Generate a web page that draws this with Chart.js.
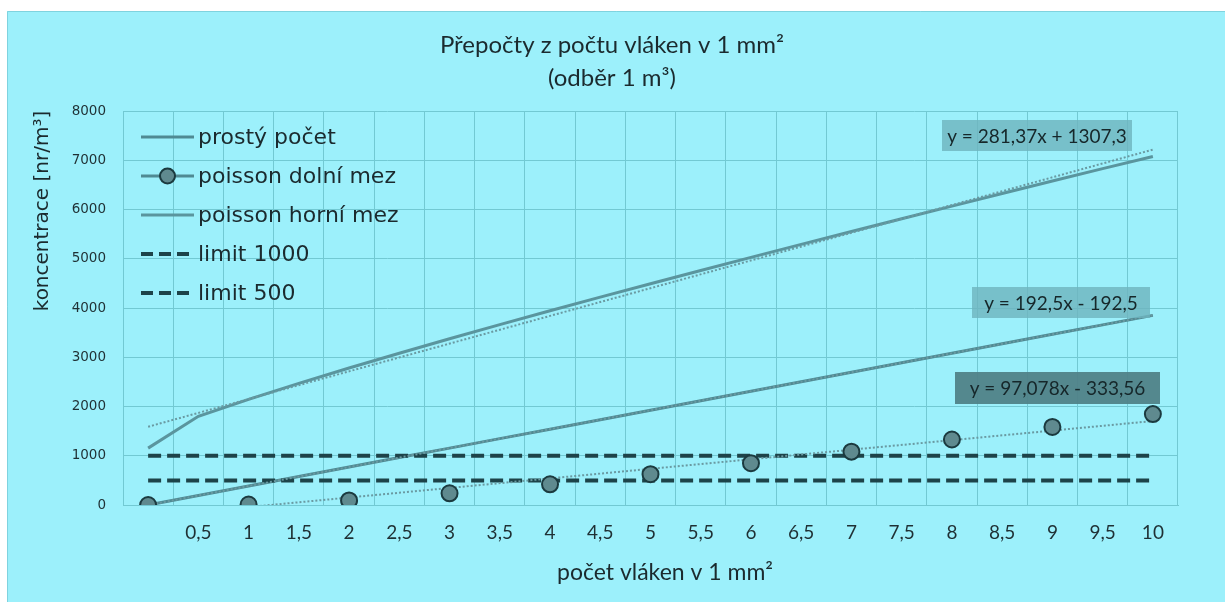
<!DOCTYPE html>
<html><head><meta charset="utf-8">
<script src="https://cdn.jsdelivr.net/npm/chart.js@4.4.1/dist/chart.umd.min.js"></script>
<style>html,body{margin:0;padding:0;background:#fff;}canvas{display:block;}</style>
</head><body>
<canvas id="c" width="1225" height="602"></canvas>
<script>
// ---- data ----
const categories = ['', '0,5', '1', '1,5', '2', '2,5', '3', '3,5', '4', '4,5', '5', '5,5', '6', '6,5', '7', '7,5', '8', '8,5', '9', '9,5', '10'];
const prostyPocet = [0, 192.5, 385, 577.5, 770, 962.5, 1155, 1347.5, 1540, 1732.5, 1925, 2117.5, 2310, 2502.5, 2695, 2887.5, 3080, 3272.5, 3465, 3657.5, 3850];
const poissonDolni = [0, null, 10, null, 93, null, 238, null, 420, null, 625, null, 848, null, 1083, null, 1330, null, 1584, null, 1846];
const poissonHorni = [1155, 1800, 2145, 2470, 2782, 3082, 3375, 3662, 3943, 4220, 4492, 4762, 5028, 5291, 5553, 5812, 6069, 6324, 6578, 6830, 7075];
const limit1000 = [1000, 1000, 1000, 1000, 1000, 1000, 1000, 1000, 1000, 1000, 1000, 1000, 1000, 1000, 1000, 1000, 1000, 1000, 1000, 1000, 1000];
const limit500 = [500, 500, 500, 500, 500, 500, 500, 500, 500, 500, 500, 500, 500, 500, 500, 500, 500, 500, 500, 500, 500];
// trendline end values (first and last category)
const trendHorni = [1589, 7216];
const trendProsty = [0, 3850];
const trendDolni = [-236, 1705];
const seriesNames = ['prostý počet', 'poisson dolní mez', 'poisson horní mez', 'limit 1000', 'limit 500'];
const trendTexts = ['y = 281,37x + 1307,3', 'y = 192,5x - 192,5', 'y = 97,078x - 333,56'];
const titleLines = ['Přepočty z počtu vláken v 1 mm²', '(odběr 1 m³)'];
const xTitle = 'počet vláken v 1 mm²';
const yTitle = 'koncentrace [nr/m³]';

// ---- styles ----
const BG = '#9cf0fb';
const GRID = '#72c9d3';
const LINE = '#4f8a93';
const LINE2 = '#5a959e';
const TREND = '#6a9aa2';
const DARK = '#1d4349';
const MARK = '#5f8a8f';
const TEXT = '#1b2a2e';

const firstLab = categories[0];
const lastLab = categories[categories.length - 1];
const trendData = (ends) => [{x: firstLab, y: ends[0]}, {x: lastLab, y: ends[1]}];

const decor = {
  id: 'decor',
  beforeDraw(chart) {
    const ctx = chart.ctx;
    ctx.save();
    ctx.fillStyle = '#ffffff';
    ctx.fillRect(0, 0, chart.width, chart.height);
    ctx.fillStyle = BG;
    ctx.fillRect(7, 11, chart.width - 7, chart.height - 11);
    ctx.strokeStyle = '#7fd3df';
    ctx.lineWidth = 1;
    ctx.beginPath();
    ctx.moveTo(7.5, chart.height); ctx.lineTo(7.5, 11.5); ctx.lineTo(chart.width, 11.5);
    ctx.stroke();
    ctx.restore();
  },
  afterDraw(chart) {
    const ctx = chart.ctx;
    ctx.save();
    ctx.fillStyle = TEXT;
    ctx.textAlign = 'center';
    ctx.textBaseline = 'middle';
    // title
    ctx.font = '24px Lato';
    ctx.fillText(titleLines[0], 612, 45);
    ctx.fillText(titleLines[1], 612, 78);
    // x title
    ctx.font = '23px Lato';
    ctx.fillText(xTitle, 665, 573);
    // y title
    ctx.save();
    ctx.translate(43, 211);
    ctx.rotate(-Math.PI / 2);
    ctx.font = '20px "DejaVu Sans"';
    ctx.fillText(yTitle, 0, 0);
    ctx.restore();

    // legend
    const rows = [137, 176, 215, 254, 293];
    const x0 = 141, x1 = 194;
    ctx.textAlign = 'left';
    ctx.font = '22px "DejaVu Sans"';
    rows.forEach((y, i) => {
      ctx.save();
      ctx.beginPath();
      ctx.moveTo(x0, y); ctx.lineTo(x1, y);
      if (i < 3) {
        ctx.strokeStyle = i === 2 ? LINE2 : LINE;
        ctx.lineWidth = 3;
      } else {
        ctx.strokeStyle = DARK;
        ctx.lineWidth = 4;
        ctx.setLineDash([12, 6]);
      }
      ctx.stroke();
      ctx.restore();
      if (i === 1) {
        ctx.beginPath();
        ctx.arc((x0 + x1) / 2, y, 7.5, 0, Math.PI * 2);
        ctx.fillStyle = MARK; ctx.fill();
        ctx.lineWidth = 2; ctx.strokeStyle = '#1b3a3f'; ctx.stroke();
      }
      ctx.fillStyle = TEXT;
      ctx.fillText(seriesNames[i], 198, y + 1);
    });

    // trendline labels
    const boxes = [
      {t: trendTexts[0], x: 942, y: 120, w: 190, h: 31, bg: 'rgba(110,180,190,0.8)'},
      {t: trendTexts[1], x: 972, y: 287, w: 178, h: 31, bg: 'rgba(110,180,190,0.8)'},
      {t: trendTexts[2], x: 955, y: 372, w: 205, h: 32, bg: 'rgba(80,130,136,0.95)'}
    ];
    ctx.font = '19px Lato';
    ctx.textAlign = 'center';
    boxes.forEach(b => {
      ctx.fillStyle = b.bg;
      ctx.fillRect(b.x, b.y, b.w, b.h);
      ctx.fillStyle = '#16272a';
      ctx.fillText(b.t, b.x + b.w / 2, b.y + b.h / 2 + 1);
    });
    ctx.restore();
  }
};

new Chart(document.getElementById('c'), {
  type: 'line',
  data: {
    labels: categories,
    datasets: [
      {label: seriesNames[1], data: poissonDolni, showLine: false, pointRadius: 8, pointHoverRadius: 8,
       pointBackgroundColor: MARK, pointBorderColor: '#1b3a3f', pointBorderWidth: 2, borderColor: MARK, order: 0},
      {label: 'trend horní', data: trendData(trendHorni), borderColor: TREND, borderWidth: 2, borderDash: [2, 2], pointRadius: 0, order: 1},
      {label: 'trend prostý', data: trendData(trendProsty), borderColor: TREND, borderWidth: 2, borderDash: [2, 2], pointRadius: 0, order: 1},
      {label: 'trend dolní', data: trendData(trendDolni), borderColor: TREND, borderWidth: 2, borderDash: [2, 2], pointRadius: 0, order: 1},
      {label: seriesNames[3], data: limit1000, borderColor: DARK, borderWidth: 4, borderDash: [13, 6], pointRadius: 0, order: 2},
      {label: seriesNames[4], data: limit500, borderColor: DARK, borderWidth: 4, borderDash: [13, 6], pointRadius: 0, order: 2},
      {label: seriesNames[0], data: prostyPocet, borderColor: LINE, borderWidth: 3, pointRadius: 0, order: 3},
      {label: seriesNames[2], data: poissonHorni, borderColor: LINE2, borderWidth: 3, pointRadius: 0, order: 3}
    ]
  },
  options: {
    responsive: false,
    animation: false,
    devicePixelRatio: 1,
    layout: {padding: {top: 111, right: 47, left: 0, bottom: 0}},
    plugins: {legend: {display: false}, title: {display: false}, tooltip: {enabled: false}},
    elements: {line: {tension: 0}},
    scales: {
      x: {
        type: 'category',
        offset: true,
        grid: {offset: true, color: GRID, drawTicks: false, lineWidth: 1},
        border: {color: GRID},
        ticks: {autoSkip: false, maxRotation: 0, padding: 16, color: '#1f3034', font: {family: 'Lato', size: 19}},
        afterFit: (s) => { s.height = 97; }
      },
      y: {
        min: 0, max: 8000,
        grid: {color: GRID, drawTicks: false},
        border: {color: GRID},
        ticks: {stepSize: 1000, padding: 17, color: '#1f3034', font: {family: 'DejaVu Sans', size: 13.5},
                callback: (v) => String(v)},
        afterFit: (s) => { s.width = 123; }
      }
    }
  },
  plugins: [decor]
});
</script>
</body></html>
